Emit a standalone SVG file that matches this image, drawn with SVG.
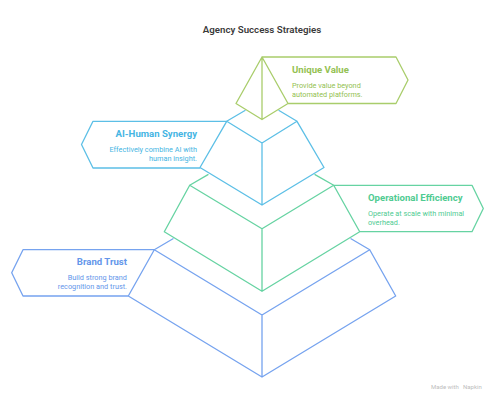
<svg xmlns="http://www.w3.org/2000/svg" width="495" height="400" viewBox="0 0 495 400">
<style>
text{font-family:Roboto,"Liberation Sans",sans-serif}
.s{fill:none;stroke-width:1.3;stroke-linejoin:round;stroke-linecap:round}
.h{font-size:9.6px;font-weight:700}
.d{font-size:7.3px}
.e{text-anchor:end}
.lime{stroke:#a9cd6b}.cyan{stroke:#5cbfe6}.mint{stroke:#66d3a2}.blue{stroke:#76a3ef}
.tlime{fill:#94c152}.tcyan{fill:#45b5e3}.tmint{fill:#4fcb92}.tblue{fill:#6496ea}
</style>
<rect width="495" height="400" fill="#fff"/>
<text x="262" y="33" text-anchor="middle" font-size="9.7" font-weight="600" fill="#3a3a3a">Agency Success Strategies</text>
<g id="brand-trust">
<path class="s blue" d="M154.3 249.7L173 238.8M369.7 249.7L351 238.8M154.3 249.7L262 315L369.7 249.7L395.7 296L262 377L128.3 296ZM262 315V377M154.3 249.7H23L11.7 272.7L23 296H128.3"/>
<text class="h e tblue" x="127" y="265">Brand Trust</text>
<text class="d e tblue" x="127" y="280">Build strong brand</text>
<text class="d e tblue" x="127" y="289">recognition and trust.</text>
</g>
<g id="operational-efficiency">
<path class="s mint" d="M189.7 185.3L208 174.6M333.7 185.3L315 174.6M189.7 185.3L262 228.7L333.7 185.3L359.7 231.7L262 291.3L164.3 231.7ZM262 228.7V291.3M333.7 185.3H472L483.3 208.5L472 231.7H359.7"/>
<text class="h tmint" x="368" y="201">Operational Efficiency</text>
<text class="d tmint" x="368" y="216">Operate at scale with minimal</text>
<text class="d tmint" x="368" y="225">overhead.</text>
</g>
<g id="ai-human-synergy">
<path class="s cyan" d="M226.7 121.3L245 110.5M297 121.3L279 110.5M226.7 121.3L262 143L297 121.3L324 167.5L262 205L200 167.5ZM262 143V205M226.7 121.3H93L81.5 144.5L93 168H200"/>
<text class="h e tcyan" x="197" y="136.5">AI-Human Synergy</text>
<text class="d e tcyan" x="197" y="151.5">Effectively combine AI with</text>
<text class="d e tcyan" x="197" y="160.5">human insight.</text>
</g>
<g id="unique-value">
<path class="s lime" d="M262 57L288 103.5L262 119.5L236 103.5ZM262 57V119.5M262 57H396L408 80L396 103.5H288"/>
<text class="h tlime" x="292" y="72.5">Unique Value</text>
<text class="d tlime" x="292" y="87.5">Provide value beyond</text>
<text class="d tlime" x="292" y="96.5">automated platforms.</text>
</g>
<text x="431" y="389" font-size="6" fill="#bdbdbd">Made with</text>
<text x="463" y="389" font-size="6" fill="#bdbdbd">Napkin</text>
</svg>
